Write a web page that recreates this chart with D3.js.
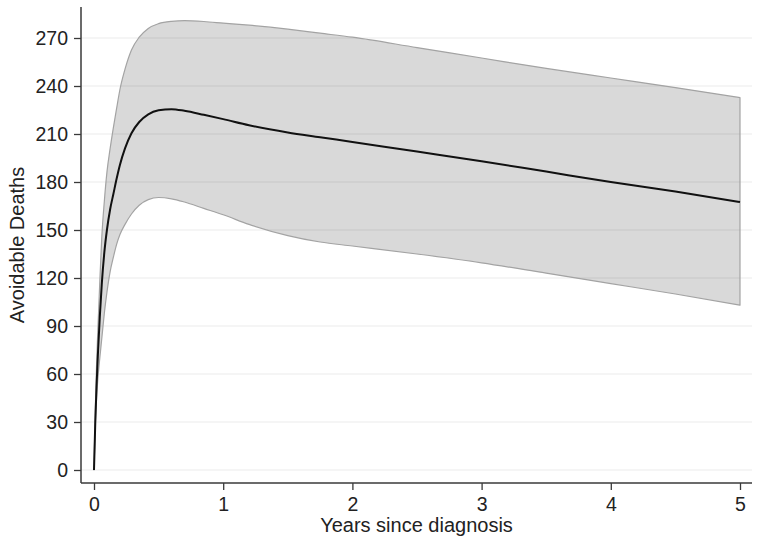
<!DOCTYPE html>
<html>
<head>
<meta charset="utf-8">
<script src="https://cdn.jsdelivr.net/npm/d3@7"></script>
<style>
  html, body { margin: 0; padding: 0; background: #fff; }
  svg { display: block; }
  text { font-family: "Liberation Sans", Arial, Helvetica, sans-serif; fill: #222; }
</style>
</head>
<body>
<svg id="chart" width="760" height="544"></svg>
<script>
// ---- data ----
const years = [0, 0.01, 0.02, 0.03, 0.045, 0.06, 0.08, 0.1, 0.125, 0.15, 0.175, 0.2, 0.24, 0.29, 0.35, 0.42, 0.5, 0.6, 0.7, 0.85, 1.0, 1.2, 1.5, 1.75, 2.0, 2.5, 3.0, 3.5, 4.0, 4.5, 5.0];
const estimate = [0, 30, 53, 72, 96, 116, 136, 150, 163, 172.5, 182, 190.5, 201, 210.5, 217.5, 222.3, 224.8, 225.5, 224.5, 222, 219.3, 215.5, 211, 208, 205, 199, 193, 186.5, 180, 174, 167.5];
const upper = [0, 38, 66, 88, 118, 145, 168, 186, 201, 214, 226, 237.5, 250.5, 262.5, 270.5, 276, 279, 280.4, 280.8, 280.3, 279.3, 278, 275.5, 273, 270.5, 264, 257.5, 251, 245, 239, 232.7];
const lower = [0, 28, 45, 57, 70, 82, 98, 111, 124, 133, 141, 147, 153.5, 160, 165.5, 169, 170.3, 169.5, 167.5, 163.5, 159.5, 153.5, 146.5, 142.5, 140, 135, 129.5, 123, 116.5, 110, 103];
const xTicks = [0, 1, 2, 3, 4, 5];
const yTicks = [0, 30, 60, 90, 120, 150, 180, 210, 240, 270];
const xTitle = "Years since diagnosis";
const yTitle = "Avoidable Deaths";

// ---- layout ----
const svg = d3.select("#chart");
const axisLeft = 81, axisRight = 752, axisTop = 7, axisBottom = 483;
const x = d3.scaleLinear().domain([0, 5]).range([94, 740]);
const y = d3.scaleLinear().domain([0, 270]).range([470, 38]);
const tickFont = 19.5, titleFont = 20;

const rows = years.map((t, i) => ({ t, est: estimate[i], hi: upper[i], lo: lower[i] }));

// gridlines
svg.append("g").selectAll("line").data(yTicks).join("line")
  .attr("x1", axisLeft).attr("x2", axisRight)
  .attr("y1", d => y(d)).attr("y2", d => y(d))
  .attr("stroke", "#ececec").attr("stroke-width", 1.2);

// confidence band
const area = d3.area()
  .x(d => x(d.t)).y0(d => y(d.lo)).y1(d => y(d.hi))
  .curve(d3.curveMonotoneX);
svg.append("path").datum(rows)
  .attr("d", area)
  .attr("fill", "#000").attr("fill-opacity", 0.15)
  .attr("stroke", "#a3a3a3").attr("stroke-width", 1.2)
  .attr("stroke-linejoin", "round");

// estimate line
const line = d3.line().x(d => x(d.t)).y(d => y(d.est)).curve(d3.curveMonotoneX);
svg.append("path").datum(rows)
  .attr("d", line)
  .attr("fill", "none").attr("stroke", "#111").attr("stroke-width", 2);

// axes
const yAxis = d3.axisLeft(y).tickValues(yTicks).tickSize(7).tickPadding(6).tickFormat(d3.format("d"));
const gy = svg.append("g").attr("transform", `translate(${axisLeft},0)`).call(yAxis);
gy.select(".domain").remove();
gy.append("line").attr("x1", 0).attr("x2", 0).attr("y1", axisTop).attr("y2", axisBottom)
  .attr("stroke", "#3a3a3a").attr("stroke-width", 1.5);

const xAxis = d3.axisBottom(x).tickValues(xTicks).tickSize(7).tickPadding(7).tickFormat(d3.format("d"));
const gx = svg.append("g").attr("transform", `translate(0,${axisBottom})`).call(xAxis);
gx.select(".domain").remove();
gx.append("line").attr("x1", axisLeft).attr("x2", axisRight).attr("y1", 0).attr("y2", 0)
  .attr("stroke", "#3a3a3a").attr("stroke-width", 1.5);

[gx, gy].forEach(g => {
  g.selectAll(".tick line").attr("stroke", "#3a3a3a").attr("stroke-width", 1.3);
  g.selectAll(".tick text").attr("font-size", tickFont)
    .attr("font-family", '"Liberation Sans", Arial, sans-serif').attr("fill", "#222");
});

// axis titles
svg.append("text")
  .attr("x", (axisLeft + axisRight) / 2).attr("y", 532)
  .attr("text-anchor", "middle").attr("font-size", titleFont)
  .text(xTitle);
svg.append("text")
  .attr("transform", `translate(24,${(axisTop + axisBottom) / 2}) rotate(-90)`)
  .attr("text-anchor", "middle").attr("font-size", titleFont)
  .text(yTitle);
</script>
</body>
</html>
